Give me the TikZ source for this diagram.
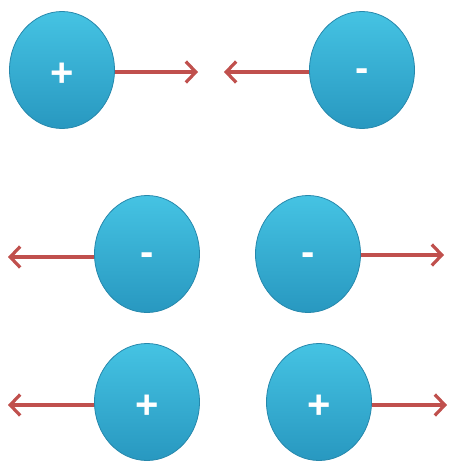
\documentclass[tikz,border=0pt]{standalone}
\usepackage{fontspec}
\setmainfont{Liberation Sans}
\usetikzlibrary{shapes.geometric,arrows.meta}
\definecolor{ballTop}{HTML}{45C3E3}
\definecolor{ballBot}{HTML}{2898C0}
\definecolor{ballEdge}{HTML}{2688AC}
\definecolor{arrowRed}{HTML}{C0504D}
\tikzset{
  charge/.style={ellipse, minimum width=105pt, minimum height=117pt, inner sep=0pt,
    top color=ballTop, bottom color=ballBot, draw=ballEdge, line width=0.8pt,
    text=white, font=\fontsize{40}{40}\selectfont\bfseries, text depth=0pt},
  poscharge/.style={charge, text height=32pt},
  negcharge/.style={charge, text height=23pt},
  force/.style={draw=arrowRed, line width=3.5pt,
    -{Straight Barb[length=10pt,width=21pt,line width=3.2pt]}}
}
\begin{document}
\begin{tikzpicture}[x=1pt,y=-1pt]
\useasboundingbox (0,0) rectangle (451,461);
\node[poscharge] (p1) at (62,70) {+};
\node[negcharge] (m1) at (362,70) {-};
\coordinate (e1) at (198,72);
\coordinate (e2) at (224,72);
\draw[force] (p1.east |- e1) -- (e1);
\draw[force] (m1.west |- e2) -- (e2);

\node[negcharge] (m2) at (147,254) {-};
\node[negcharge] (m3) at (308,254) {-};
\coordinate (e3) at (8,257);
\coordinate (e4) at (444,255);
\draw[force] (m2.west |- e3) -- (e3);
\draw[force] (m3.east |- e4) -- (e4);

\node[poscharge] (p2) at (147,402) {+};
\node[poscharge] (p3) at (319,402) {+};
\coordinate (e5) at (8,405);
\coordinate (e6) at (447,405);
\draw[force] (p2.west |- e5) -- (e5);
\draw[force] (p3.east |- e6) -- (e6);
\end{tikzpicture}
\end{document}
